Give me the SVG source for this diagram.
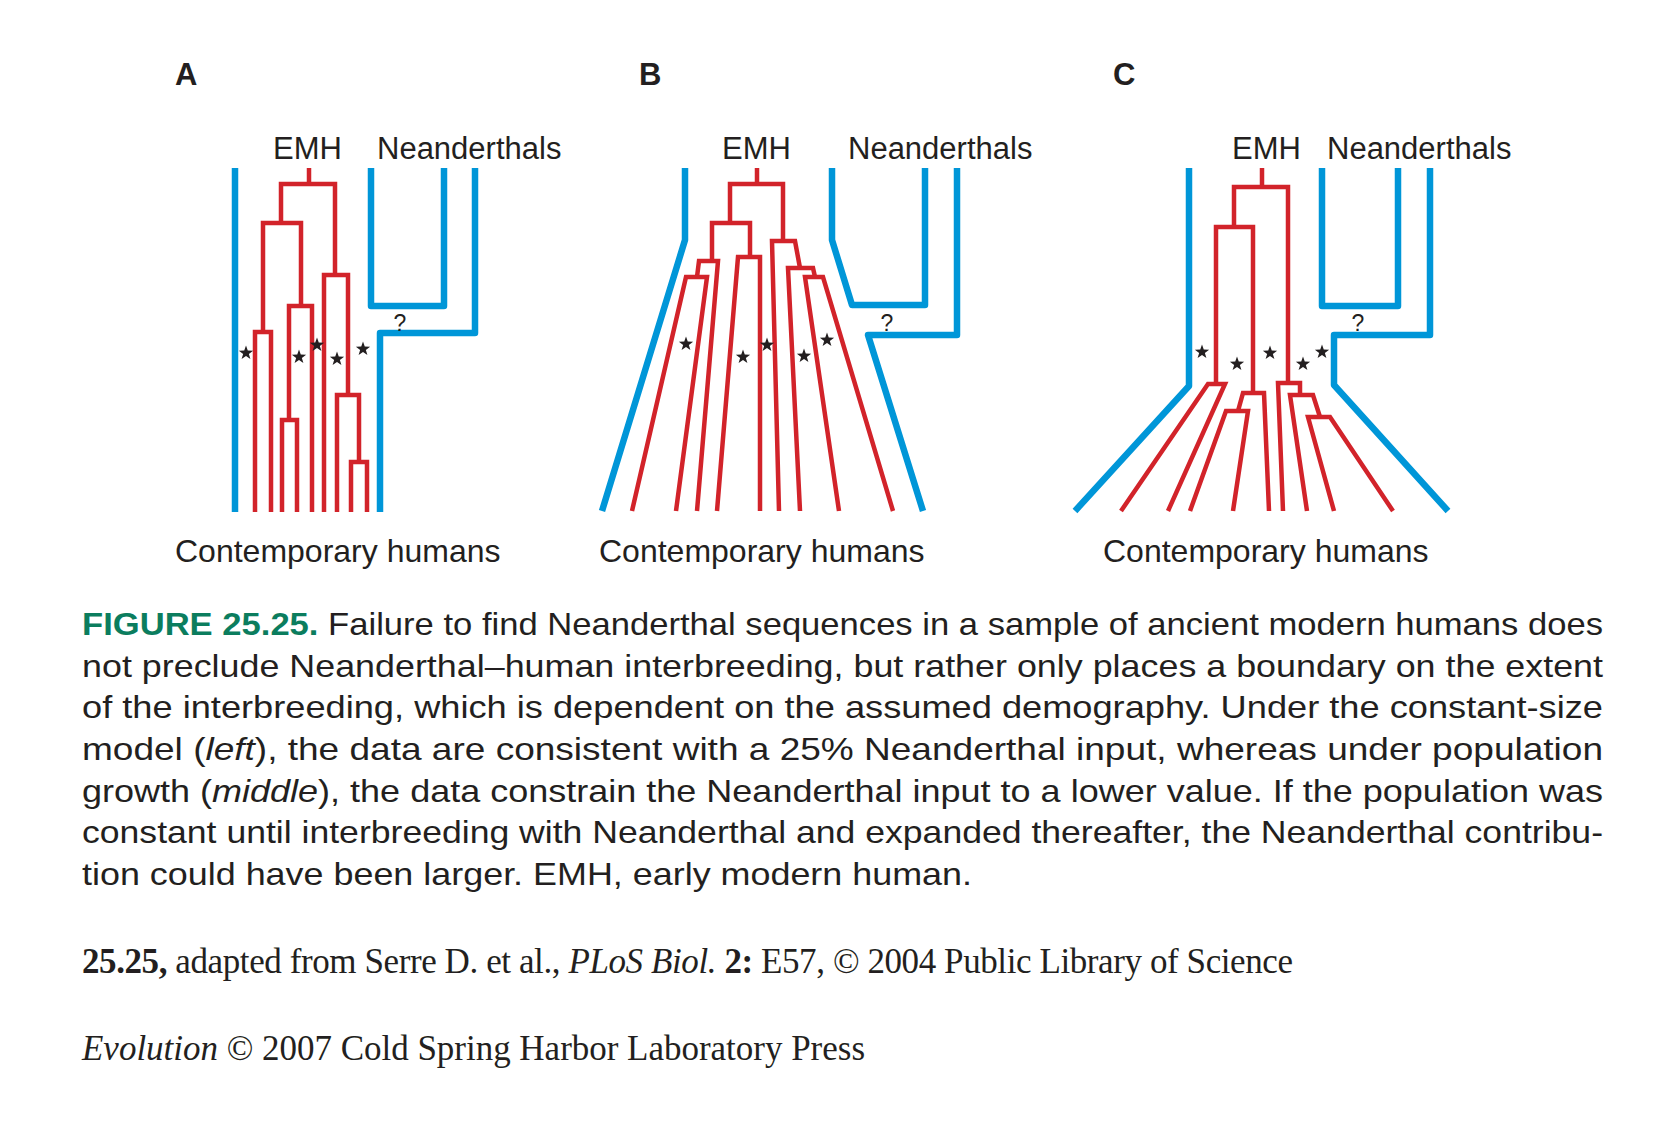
<svg xmlns="http://www.w3.org/2000/svg" xmlns:xlink="http://www.w3.org/1999/xlink" width="1680" height="1128" viewBox="0 0 1680 1128">
<style>
.blue{fill:none;stroke:#0096D8;stroke-width:6.5;stroke-linejoin:round;stroke-linecap:butt}
.red{fill:none;stroke:#D2232A;stroke-width:4.5;stroke-linejoin:miter;stroke-linecap:butt}
.lbl{font-family:"Liberation Sans",Arial,sans-serif;font-size:31px;fill:#231F20}
.hum{font-family:"Liberation Sans",Arial,sans-serif;font-size:32px;fill:#231F20}
.let{font-family:"Liberation Sans",Arial,sans-serif;font-size:31px;font-weight:bold;fill:#231F20}
.q{font-family:"Liberation Sans",Arial,sans-serif;font-size:23px;fill:#231F20;text-anchor:middle}
.cap{font-family:"Liberation Sans",Arial,sans-serif;font-size:32px;fill:#231F20}
.fig{fill:#0B7D5E;font-weight:bold}
.cit{font-family:"Liberation Serif","Times New Roman",serif;font-size:35px;fill:#231F20}
.star{fill:#231F20}
</style>
<defs>
<polygon id="star" class="star" points="0,-7.5 1.76,-2.42 7.13,-2.32 2.85,0.93 4.41,6.07 0,3 -4.41,6.07 -2.85,0.93 -7.13,-2.32 -1.76,-2.42"/>
</defs>
<rect width="1680" height="1128" fill="#ffffff"/>

<!-- Panel A -->
<g id="panelA">
<text class="let" x="175" y="85">A</text>
<text class="lbl" x="273" y="159">EMH</text>
<text class="lbl" x="377" y="159">Neanderthals</text>
<text class="hum" x="175" y="562">Contemporary humans</text>
<g id="A-connectors">
<path class="blue" d="M235,168 V512"/>
<path class="blue" d="M371,168 V306 H444 V168"/>
<path class="blue" d="M475,168 V333 H380 V512"/>
<path class="red" d="M309,168 V184"/>
<path class="red" d="M281,223 V184 H335 V275"/>
<path class="red" d="M263,332 V223 H301 V306"/>
<path class="red" d="M255,512 V332 H271 V512"/>
<path class="red" d="M289,420 V306 H312 V512"/>
<path class="red" d="M282,512 V420 H297 V512"/>
<path class="red" d="M324,512 V275 H348 V395"/>
<path class="red" d="M337,512 V395 H359 V462"/>
<path class="red" d="M351,512 V462 H367 V512"/>
</g>
<text class="q" x="400" y="331">?</text>
<use xlink:href="#star" x="246" y="353"/>
<use xlink:href="#star" x="299" y="357"/>
<use xlink:href="#star" x="317" y="345"/>
<use xlink:href="#star" x="337" y="359"/>
<use xlink:href="#star" x="363" y="349"/>
</g>

<!-- Panel B -->
<g id="panelB">
<text class="let" x="639" y="85">B</text>
<text class="lbl" x="722" y="159">EMH</text>
<text class="lbl" x="848" y="159">Neanderthals</text>
<text class="hum" x="599" y="562">Contemporary humans</text>
<g id="B-connectors">
<path class="blue" d="M685,168 V240 L602,511"/>
<path class="blue" d="M832,168 V240 L852,305 H925 V168"/>
<path class="blue" d="M957,168 V335 H868 L923,511"/>
<path class="red" d="M757,168 V184"/>
<path class="red" d="M730,223 V184 H783 V241"/>
<path class="red" d="M712,261 V223 H750 V257"/>
<path class="red" d="M697,277 L699,261 H718 L697,511"/>
<path class="red" d="M632,511 L686,277 H707 L676,511"/>
<path class="red" d="M717,511 L738,257 H760 V511"/>
<path class="red" d="M779,511 L772,241 H795 L800,268"/>
<path class="red" d="M800,511 L788,268 H813 L815,277"/>
<path class="red" d="M839,511 L805,277 H823 L893,511"/>
</g>
<text class="q" x="887" y="331">?</text>
<use xlink:href="#star" x="686" y="344"/>
<use xlink:href="#star" x="743" y="357"/>
<use xlink:href="#star" x="767" y="345"/>
<use xlink:href="#star" x="804" y="356"/>
<use xlink:href="#star" x="827" y="340"/>
</g>

<!-- Panel C -->
<g id="panelC">
<text class="let" x="1113" y="85">C</text>
<text class="lbl" x="1232" y="159">EMH</text>
<text class="lbl" x="1327" y="159">Neanderthals</text>
<text class="hum" x="1103" y="562">Contemporary humans</text>
<g id="C-connectors">
<path class="blue" d="M1189,168 V386 L1075,511"/>
<path class="blue" d="M1322,168 V306 H1398 V168"/>
<path class="blue" d="M1430,168 V335 H1334 V385 L1448,511"/>
<path class="red" d="M1262,168 V187"/>
<path class="red" d="M1234,227 V187 H1288 V383"/>
<path class="red" d="M1216,384 V227 H1253 V393"/>
<path class="red" d="M1121,511 L1208,384 H1225 L1168,511"/>
<path class="red" d="M1238,411 L1243,393 H1264 L1269,511"/>
<path class="red" d="M1190,511 L1226,411 H1248 L1233,511"/>
<path class="red" d="M1283,511 L1278,383 H1300 V395"/>
<path class="red" d="M1307,511 L1290,395 H1313 L1320,417"/>
<path class="red" d="M1334,511 L1308,417 H1330 L1393,511"/>
</g>
<text class="q" x="1358" y="331">?</text>
<use xlink:href="#star" x="1202" y="352"/>
<use xlink:href="#star" x="1237" y="364"/>
<use xlink:href="#star" x="1270" y="353"/>
<use xlink:href="#star" x="1303" y="364"/>
<use xlink:href="#star" x="1322" y="352"/>
</g>

<!-- Caption -->
<g id="caption">
<text class="cap" x="82" y="635" textLength="1521" lengthAdjust="spacingAndGlyphs"><tspan class="fig">FIGURE 25.25.</tspan> Failure to find Neanderthal sequences in a sample of ancient modern humans does</text>
<text class="cap" x="82" y="677" textLength="1521" lengthAdjust="spacingAndGlyphs">not preclude Neanderthal–human interbreeding, but rather only places a boundary on the extent</text>
<text class="cap" x="82" y="718" textLength="1521" lengthAdjust="spacingAndGlyphs">of the interbreeding, which is dependent on the assumed demography. Under the constant-size</text>
<text class="cap" x="82" y="760" textLength="1521" lengthAdjust="spacingAndGlyphs">model (<tspan font-style="italic">left</tspan>), the data are consistent with a 25% Neanderthal input, whereas under population</text>
<text class="cap" x="82" y="802" textLength="1521" lengthAdjust="spacingAndGlyphs">growth (<tspan font-style="italic">middle</tspan>), the data constrain the Neanderthal input to a lower value. If the population was</text>
<text class="cap" x="82" y="843" textLength="1521" lengthAdjust="spacingAndGlyphs">constant until interbreeding with Neanderthal and expanded thereafter, the Neanderthal contribu-</text>
<text class="cap" x="82" y="885" textLength="890" lengthAdjust="spacingAndGlyphs">tion could have been larger. EMH, early modern human.</text>
</g>

<g id="credits">
<text class="cit" x="82" y="973" textLength="1211"><tspan font-weight="bold">25.25,</tspan> adapted from Serre D. et al., <tspan font-style="italic">PLoS Biol.</tspan> <tspan font-weight="bold">2:</tspan> E57, © 2004 Public Library of Science</text>
<text class="cit" x="82" y="1060" textLength="783"><tspan font-style="italic">Evolution</tspan> © 2007 Cold Spring Harbor Laboratory Press</text>
</g>
</svg>
